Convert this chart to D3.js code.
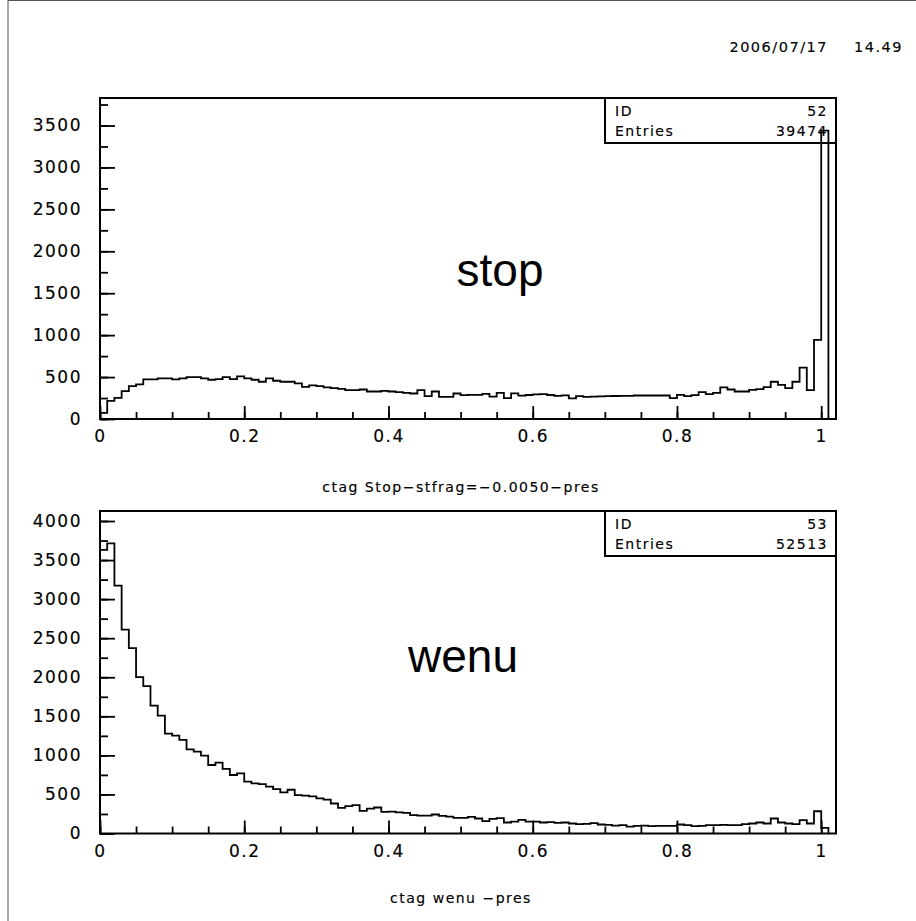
<!DOCTYPE html>
<html>
<head>
<meta charset="utf-8">
<script src="https://cdn.jsdelivr.net/npm/d3@7"></script>
<style>
  body { margin: 0; background: #fff; }
  svg { display: block; }
  .lbl { font-family: "DejaVu Sans", sans-serif; letter-spacing: 1.5px; fill: #000; stroke: #000; stroke-width: 0.15px; }
  .big { font-family: "Liberation Sans", Arial, sans-serif; fill: #000; }
</style>
</head>
<body>
<svg id="page"></svg>
<script>
// histogram contents, bin width 0.01 starting at 0
var binWidth = 0.01;

var stopCounts = [
  72, 216, 252, 332, 392, 412, 472, 472, 484, 484,
  472, 484, 500, 500, 484, 468, 476, 500, 476, 508,
  484, 468, 444, 484, 456, 444, 444, 424, 384, 400,
  392, 376, 368, 360, 344, 344, 352, 328, 328, 336,
  328, 320, 312, 304, 344, 272, 328, 264, 264, 304,
  284, 288, 288, 300, 268, 312, 250, 306, 278, 286,
  294, 296, 286, 276, 282, 246, 272, 264, 268, 270,
  272, 274, 276, 276, 280, 280, 280, 280, 280, 248,
  288, 272, 284, 320, 296, 312, 376, 352, 328, 328,
  348, 356, 380, 444, 408, 368, 444, 612, 344, 944,
  3440
];

var wenuCounts = [
  3630, 3713, 3174, 2610, 2374, 2002, 1887, 1638, 1510, 1279,
  1253, 1198, 1078, 1048, 997, 877, 907, 826, 749, 770,
  663, 642, 633, 599, 569, 526, 560, 492, 484, 474,
  450, 433, 384, 329, 350, 363, 290, 318, 333, 278,
  280, 271, 264, 234, 230, 230, 243, 226, 217, 200,
  200, 213, 192, 158, 187, 196, 141, 153, 175, 153,
  153, 141, 145, 136, 141, 128, 119, 124, 132, 115,
  110, 102, 106, 89, 98, 102, 94, 98, 98, 98,
  115, 106, 94, 98, 106, 106, 111, 106, 106, 119,
  128, 141, 128, 192, 141, 128, 119, 170, 128, 285,
  72
];

var histIds = [52, 53],
    histEntries = [39474, 52513],
    histNames = ["stop", "wenu"],
    histTitles = ["ctag Stop\u2212stfrag=\u22120.0050\u2212pres", "ctag wenu \u2212pres"];

var xTicksMajor = [0, 0.2, 0.4, 0.6, 0.8, 1],
    stopYTicks = [0, 500, 1000, 1500, 2000, 2500, 3000, 3500],
    wenuYTicks = [0, 500, 1000, 1500, 2000, 2500, 3000, 3500, 4000];

var width = 916,
    height = 921;

var svg = d3.select("#page")
    .attr("width", width)
    .attr("height", height);

// page border (only top and left visible)
svg.append("line").attr("x1", 8).attr("y1", 0).attr("x2", 8).attr("y2", height)
   .attr("stroke", "#555").attr("stroke-width", 1);
svg.append("line").attr("x1", 8).attr("y1", 0.5).attr("x2", width).attr("y2", 0.5)
   .attr("stroke", "#555").attr("stroke-width", 1);

// date stamp
svg.append("text").attr("class", "lbl")
   .attr("x", 828).attr("y", 52).attr("text-anchor", "end")
   .style("font-size", "14.5px")
   .text("2006/07/17");
svg.append("text").attr("class", "lbl")
   .attr("x", 903).attr("y", 52).attr("text-anchor", "end")
   .style("font-size", "14.5px")
   .text("14.49");

var panels = [
  {counts: stopCounts, yTicks: stopYTicks, yMax: 3828, top: 98, bottom: 419,
   label: {x: 500, y: 286}, titleY: 492},
  {counts: wenuCounts, yTicks: wenuYTicks, yMax: 4128, top: 511, bottom: 833.5,
   label: {x: 463, y: 672}, titleY: 903}
];

var left = 100, right = 836;

var x = d3.scaleLinear()
    .domain([0, 1.0205])
    .range([left, right]);

function minorTicks(lo, hi, step) {
  return d3.range(Math.ceil(lo / step - 1e-9), Math.floor(hi / step + 1e-9) + 1).map(function(i) { return i * step; });
}

panels.forEach(function(p, i) {
  var y = d3.scaleLinear()
      .domain([0, p.yMax])
      .range([p.bottom, p.top]);

  var g = svg.append("g");

  // histogram outline
  var pts = [[0, 0]];
  p.counts.forEach(function(c, k) { pts.push([k * binWidth, c]); });
  var edge = p.counts.length * binWidth;
  pts.push([edge, p.counts[p.counts.length - 1]]);
  pts.push([edge, 0]);

  var line = d3.line()
      .x(function(d) { return x(d[0]); })
      .y(function(d) { return y(d[1]); })
      .curve(d3.curveStepAfter);

  g.append("path")
   .datum(pts)
   .attr("d", line)
   .attr("fill", "none")
   .attr("stroke", "#000")
   .attr("stroke-width", 1.8);

  // minor ticks
  var yMinor = d3.axisLeft(y)
      .tickValues(minorTicks(0, p.yMax, 250))
      .tickSizeInner(-8).tickSizeOuter(0)
      .tickFormat("");
  var xMinor = d3.axisBottom(x)
      .tickValues(minorTicks(0, 1.02, 0.05))
      .tickSizeInner(-7).tickSizeOuter(0)
      .tickFormat("");

  g.append("g").attr("transform", "translate(" + left + ",0)").call(yMinor);
  g.append("g").attr("transform", "translate(0," + p.bottom + ")").call(xMinor);

  // major ticks + labels
  var yAxis = d3.axisLeft(y)
      .tickValues(p.yTicks)
      .tickSizeInner(-15).tickSizeOuter(0)
      .tickPadding(18)
      .tickFormat(d3.format("d"));
  var xAxis = d3.axisBottom(x)
      .tickValues(xTicksMajor)
      .tickSizeInner(-13).tickSizeOuter(0)
      .tickPadding(11)
      .tickFormat(function(d) { return String(+d.toFixed(2)); });

  g.append("g").attr("transform", "translate(" + left + ",0)").call(yAxis);
  g.append("g").attr("transform", "translate(0," + p.bottom + ")").call(xAxis);

  g.selectAll(".domain").remove();
  g.selectAll(".tick line").attr("stroke", "#000").attr("stroke-width", 1.8);
  g.selectAll(".tick text")
   .attr("class", "lbl")
   .style("font-size", "17px")
   .attr("fill", "#000");

  // frame
  g.append("rect")
   .attr("x", left).attr("y", p.top)
   .attr("width", right - left).attr("height", p.bottom - p.top)
   .attr("fill", "none").attr("stroke", "#000").attr("stroke-width", 2);

  // stats box
  var bx = 605, bh = 45;
  g.append("rect")
   .attr("x", bx).attr("y", p.top)
   .attr("width", right - bx).attr("height", bh)
   .attr("fill", "none").attr("stroke", "#000").attr("stroke-width", 2);
  var rows = [["ID", histIds[i]], ["Entries", histEntries[i]]];
  rows.forEach(function(r, j) {
    var ty = p.top + 18 + j * 20;
    g.append("text").attr("class", "lbl").style("font-size", "14px")
     .attr("x", bx + 10).attr("y", ty).text(r[0]);
    g.append("text").attr("class", "lbl").style("font-size", "14px")
     .attr("x", right - 8).attr("y", ty).attr("text-anchor", "end").text(r[1]);
  });

  // big name
  g.append("text").attr("class", "big")
   .attr("x", p.label.x).attr("y", p.label.y)
   .attr("text-anchor", "middle")
   .style("font-size", "46px")
   .text(histNames[i]);

  // title under the axis
  g.append("text").attr("class", "lbl")
   .attr("x", 461).attr("y", p.titleY)
   .attr("text-anchor", "middle")
   .style("font-size", "14px")
   .text(histTitles[i]);
});
</script>
</body>
</html>
